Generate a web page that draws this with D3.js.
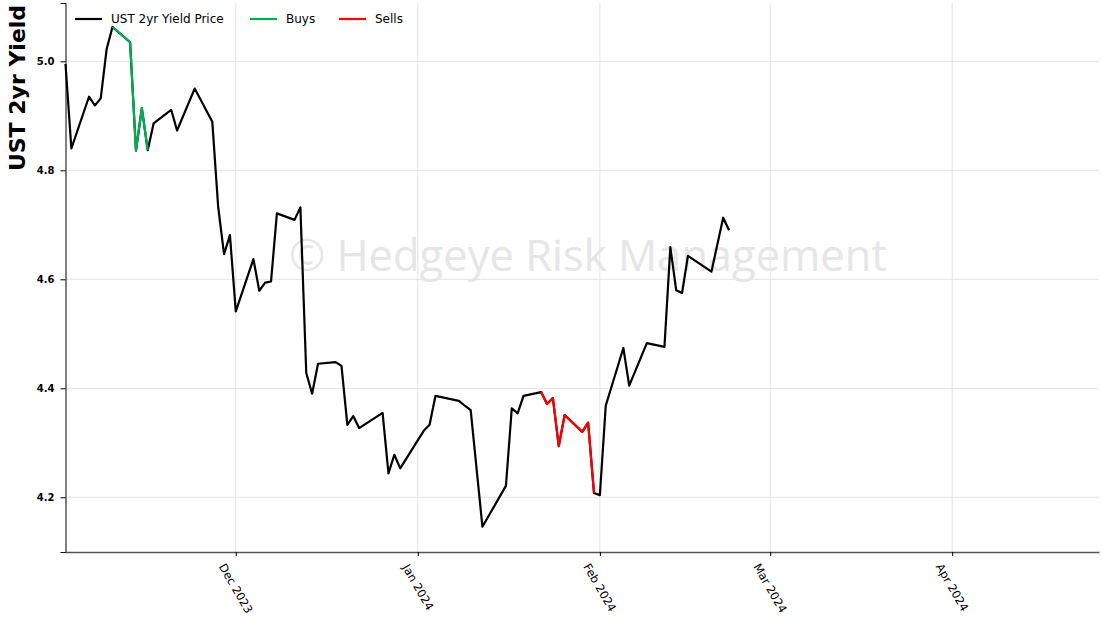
<!DOCTYPE html>
<html>
<head>
<meta charset="utf-8">
<script src="https://cdn.jsdelivr.net/npm/d3@7"></script>
<style>
  html, body { margin: 0; padding: 0; background: #fff; }
  svg { display: block; }
  text { font-family: "DejaVu Sans", sans-serif; }
</style>
</head>
<body>
<svg id="chart" width="1102" height="621"></svg>
<script>
// UST 2yr yield, daily closes
const dates = [
  "2023-11-02","2023-11-03","2023-11-06","2023-11-07","2023-11-08","2023-11-09","2023-11-10",
  "2023-11-13","2023-11-14","2023-11-15","2023-11-16","2023-11-17","2023-11-20","2023-11-21",
  "2023-11-24","2023-11-27","2023-11-28","2023-11-29","2023-11-30","2023-12-01","2023-12-04",
  "2023-12-05","2023-12-06","2023-12-07","2023-12-08","2023-12-11","2023-12-12","2023-12-13",
  "2023-12-14","2023-12-15","2023-12-18","2023-12-19","2023-12-20","2023-12-21","2023-12-22",
  "2023-12-26","2023-12-27","2023-12-28","2023-12-29","2024-01-02","2024-01-03","2024-01-04",
  "2024-01-08","2024-01-09","2024-01-10","2024-01-12","2024-01-16","2024-01-17","2024-01-18",
  "2024-01-19","2024-01-22","2024-01-23","2024-01-24","2024-01-25","2024-01-26","2024-01-29",
  "2024-01-30","2024-01-31","2024-02-01","2024-02-02","2024-02-05","2024-02-06","2024-02-09",
  "2024-02-12","2024-02-13","2024-02-14","2024-02-15","2024-02-16","2024-02-20","2024-02-22",
  "2024-02-23"
];
const yields = [
  4.995, 4.840, 4.935, 4.919, 4.932, 5.022, 5.063,
  5.035, 4.836, 4.914, 4.837, 4.886, 4.911, 4.873,
  4.950, 4.889, 4.733, 4.646, 4.681, 4.541, 4.637,
  4.579, 4.594, 4.596, 4.721, 4.709, 4.732, 4.428,
  4.390, 4.445, 4.448, 4.441, 4.333, 4.349, 4.327,
  4.355, 4.244, 4.278, 4.253, 4.322, 4.333, 4.386,
  4.377, 4.368, 4.360, 4.146, 4.221, 4.363, 4.354,
  4.386, 4.393, 4.371, 4.382, 4.294, 4.351, 4.320,
  4.337, 4.208, 4.204, 4.368, 4.474, 4.405, 4.483,
  4.476, 4.659, 4.580, 4.575, 4.643, 4.614, 4.713,
  4.690
];

// Trade signal windows
const buyDates  = ["2023-11-10","2023-11-13","2023-11-14","2023-11-15","2023-11-16"];
const sellDates = ["2024-01-22","2024-01-23","2024-01-24","2024-01-25","2024-01-26",
                   "2024-01-29","2024-01-30","2024-01-31"];

const xDomain = ["2023-11-02", "2024-04-26"];
const yDomain = [4.0996, 5.107];
const yTicks = [4.2, 4.4, 4.6, 4.8, 5.0];
const monthTicks = ["2023-12-01","2024-01-01","2024-02-01","2024-03-01","2024-04-01"];

const seriesName = "UST 2yr Yield Price";
const buyName = "Buys";
const sellName = "Sells";
const yLabel = "UST 2yr Yield";
const watermark = "\u00A9 Hedgeye Risk Management";

const parse = d3.utcParse("%Y-%m-%d");
const byDate = new Map(dates.map((d, i) => [d, yields[i]]));
const series = dates.map((d, i) => ({ date: parse(d), value: yields[i] }));
const buys = buyDates.map(d => ({ date: parse(d), value: byDate.get(d) }));
const sells = sellDates.map(d => ({ date: parse(d), value: byDate.get(d) }));

const plotLeft = 65.5, plotRight = 1099, plotTop = 3, plotBottom = 552;

const x = d3.scaleUtc().domain(xDomain.map(parse)).range([plotLeft, plotRight]);
const y = d3.scaleLinear().domain(yDomain).range([plotBottom, plotTop]);

const svg = d3.select("#chart");

// grid
const grid = svg.append("g");
grid.selectAll("line.h").data(yTicks).join("line")
  .attr("x1", plotLeft).attr("x2", plotRight)
  .attr("y1", d => y(d)).attr("y2", d => y(d))
  .attr("stroke", "#e3e3e3").attr("stroke-width", 1);
grid.selectAll("line.v").data(monthTicks.map(parse)).join("line")
  .attr("x1", d => x(d)).attr("x2", d => x(d))
  .attr("y1", plotTop).attr("y2", plotBottom)
  .attr("stroke", "#e3e3e3").attr("stroke-width", 1);

// watermark
svg.append("text")
  .attr("x", 588).attr("y", 271)
  .attr("text-anchor", "middle")
  .style("font-family", "'Open Sans', sans-serif")
  .style("font-size", "43.5px")
  .attr("fill", "#e6e6e6")
  .text(watermark);

// lines
const line = d3.line().x(d => x(d.date)).y(d => y(d.value));
svg.append("path").datum(series).attr("d", line)
  .attr("fill", "none").attr("stroke", "#000").attr("stroke-width", 2.2)
  .attr("stroke-linejoin", "round");
svg.append("path").datum(buys).attr("d", line)
  .attr("fill", "none").attr("stroke", "#00b050").attr("stroke-width", 2.2)
  .attr("stroke-linejoin", "round");
svg.append("path").datum(sells).attr("d", line)
  .attr("fill", "none").attr("stroke", "#ff0000").attr("stroke-width", 2.2)
  .attr("stroke-linejoin", "round");

// y axis
const yAxis = svg.append("g")
  .attr("transform", `translate(${plotLeft},0)`)
  .call(d3.axisLeft(y).tickValues(yTicks).tickFormat(d3.format(".1f")).tickSize(5).tickPadding(6));
yAxis.select(".domain").attr("stroke", "#000");
yAxis.selectAll("text")
  .style("font-family", "'DejaVu Sans', sans-serif")
  .style("font-size", "10px").style("font-weight", "bold").attr("fill", "#000");

// x axis
const xAxis = svg.append("g")
  .attr("transform", `translate(0,${plotBottom})`)
  .call(d3.axisBottom(x).tickValues(monthTicks.map(parse)).tickFormat(d3.utcFormat("%b %Y")).tickSize(4).tickSizeOuter(0));
xAxis.select(".domain").attr("stroke", "#555").attr("stroke-width", 1.4);
xAxis.selectAll("text")
  .style("font-family", "'DejaVu Sans', sans-serif")
  .style("font-size", "11.5px").attr("fill", "#000")
  .attr("text-anchor", "start").attr("dy", null).attr("y", 0)
  .attr("transform", "rotate(60)");
// centre each rotated label's box under its tick, top just below the axis
xAxis.selectAll(".tick").each(function(d) {
  const t = d3.select(this).select("text");
  const tickX = x(d);
  const r = t.node().getBoundingClientRect();
  const dx = tickX - (r.left + r.right) / 2;
  const dy = 561 - r.top;
  t.attr("transform", `translate(${dx},${dy}) rotate(60)`);
});

// y label
svg.append("text")
  .attr("transform", "translate(25,88) rotate(-90)")
  .attr("text-anchor", "middle")
  .style("font-size", "22px").style("font-weight", "bold")
  .attr("fill", "#000")
  .text(yLabel);

// legend
const legendItems = [
  { name: seriesName, color: "#000", x: 75 },
  { name: buyName, color: "#00b050", x: 250 },
  { name: sellName, color: "#ff0000", x: 339 }
];
const lg = svg.append("g").selectAll("g").data(legendItems).join("g")
  .attr("transform", d => `translate(${d.x},19)`);
lg.append("line").attr("x1", 0).attr("x2", 27).attr("y1", 0).attr("y2", 0)
  .attr("stroke", d => d.color).attr("stroke-width", 2.2);
lg.append("text").attr("x", 36).attr("y", 4.3)
  .style("font-size", "12px").attr("fill", "#000")
  .text(d => d.name);
</script>
</body>
</html>
